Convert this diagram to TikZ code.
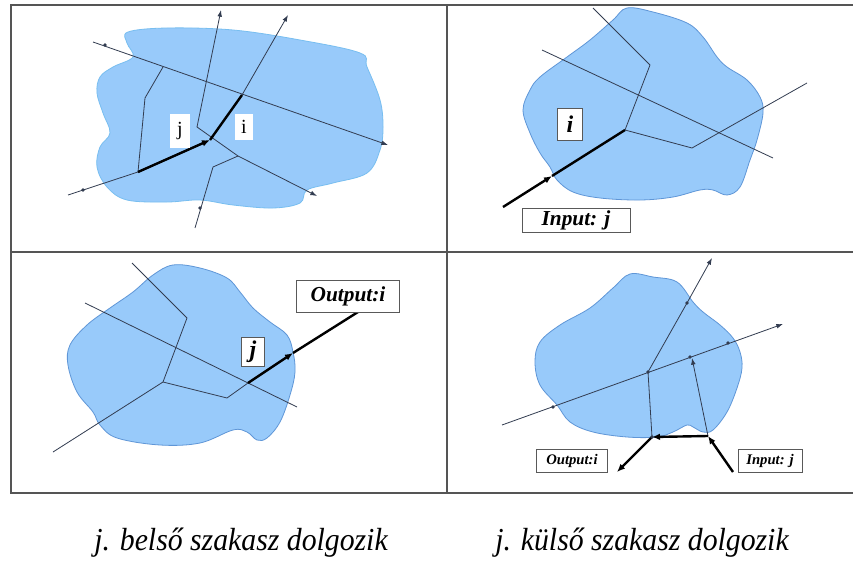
\documentclass[tikz,border=0pt]{standalone}
\usepackage{fontspec}
\setmainfont{Liberation Serif}
\usetikzlibrary{arrows.meta}
\definecolor{blobfill}{RGB}{152,202,250}
\definecolor{blobedgeA}{RGB}{120,190,240}
\definecolor{blobedge}{RGB}{95,150,215}
\definecolor{ln}{RGB}{50,60,80}
\definecolor{frm}{RGB}{85,85,85}
\begin{document}
\begin{tikzpicture}[x=0.75pt,y=-0.75pt,
  thinln/.style={draw=ln, line width=0.6pt},
  boldln/.style={draw=black, line width=1.8pt},
  tip/.style={-{Latex[length=5pt,width=3.5pt]}},
  boldtip/.style={-{Latex[length=6pt,width=5pt]}},
  blob/.style={fill=blobfill, draw=blobedge, line width=0.6pt},
  plainlbl/.style={fill=white, inner sep=0pt, font=\fontsize{15}{15}\selectfont},
  boxlbl/.style={fill=white, draw=gray!70!black, line width=0.6pt, inner sep=0pt, font=\fontsize{16}{16}\selectfont\bfseries\itshape},
  smallbox/.style={fill=white, draw=gray!70!black, line width=0.6pt, inner sep=0pt, font=\fontsize{11}{11}\selectfont\bfseries\itshape},
  caption/.style={font=\fontsize{24}{24}\selectfont\itshape, xscale=0.93, anchor=base, inner sep=0pt}
]
\useasboundingbox (0,0) rectangle (853,563);
\fill[white] (0,0) rectangle (853,563);

% ---------- frame ----------
\draw[frm, line width=1.5pt] (853,5) -- (11,5) -- (11,493) -- (853,493);
\draw[frm, line width=1.2pt] (447,5) -- (447,493);
\draw[frm, line width=1.2pt] (11,252) -- (853,252);

% ---------- panel 1 ----------
\draw[blob, draw=blobedgeA] plot[smooth cycle, tension=0.6] coordinates {
 (128,32) (167,28) (233,30) (300,40) (360,53) (367,67) (380,100) (383,127)
 (380,150) (367,173) (333,183) (307,190) (300,203) (273,208) (233,205)
 (200,200) (167,202) (127,200) (107,187) (97,167) (100,147) (110,133)
 (103,113) (97,93) (100,77) (113,67) (133,57) (127,43)};
\coordinate (a1) at (93,42);   \coordinate (a2) at (388,145);
\coordinate (c1) at (221,10);  \coordinate (c2) at (197,127);
\coordinate (c3) at (238,156); \coordinate (c4) at (317,196);
\coordinate (d1) at (213,167); \coordinate (d2) at (195,228);
\coordinate (e1) at (288,15);  \coordinate (e2) at (242,95);
\coordinate (jn) at (210,140); \coordinate (e3) at (138,172);
\coordinate (e4) at (68,195);
\coordinate (f1) at (145,98);  \coordinate (f2) at (163,67);
\draw[thinln, tip] (a1) -- (a2);
\draw[thinln, tip] (c3) -- (c2) -- (c1);
\draw[thinln, tip] (c3) -- (c4);
\draw[thinln] (c3) -- (d1) -- (d2);
\draw[thinln, tip] (e2) -- (e1);
\draw[thinln] (e3) -- (e4);
\draw[thinln] (e3) -- (f1) -- (f2);
\draw[boldln] (jn) -- (e2);
\draw[boldln, boldtip] (e3) -- (jn);
\fill[ln] (105,45) circle (1.8);
\fill[ln] (83,190) circle (1.8);
\fill[ln] (200,208) circle (1.8);
\node[plainlbl, minimum width=15pt, minimum height=25pt] (lj1) at (180,131) {j};
\node[plainlbl, minimum width=13.5pt, minimum height=19pt] (li1) at (244,127) {i};

% ---------- panel 2 ----------
\draw[blob] plot[smooth cycle, tension=0.6] coordinates {
 (627,8) (653,12) (687,23) (703,37) (717,57) (727,67) (747,80) (760,97)
 (763,113) (757,140) (750,160) (740,187) (727,195) (713,190) (700,190)
 (673,197) (640,200) (600,198) (573,192) (557,180) (550,167) (540,153)
 (530,133) (523,110) (530,90) (540,77) (567,57) (590,40) (613,20)};
\coordinate (p1) at (593,8);   \coordinate (p2) at (650,65);
\coordinate (pj) at (625,130);
\coordinate (q1) at (542,50);  \coordinate (q2) at (773,158);
\coordinate (r1) at (692,148); \coordinate (r2) at (807,83);
\coordinate (s0) at (503,207); \coordinate (s1) at (552,176);
\draw[thinln] (p1) -- (p2) -- (pj);
\draw[thinln] (q1) -- (q2);
\draw[thinln] (pj) -- (r1) -- (r2);
\draw[boldln, boldtip] (s0) -- (s1);
\draw[boldln] (s1) -- (pj);
\node[boxlbl, font=\fontsize{18}{18}\selectfont\bfseries\itshape, minimum width=19pt, minimum height=24pt] (li2) at (570,124) {i};
\node[boxlbl, minimum width=81pt, minimum height=18pt] (in2) at (576,220) {Input: j};

% ---------- panel 3 ----------
\draw[blob] plot[smooth cycle, tension=0.6] coordinates {
 (173,265) (200,268) (227,278) (240,292) (253,308) (270,322) (287,335)
 (293,352) (295,372) (290,395) (280,422) (267,438) (257,440) (247,432)
 (233,430) (200,443) (160,445) (117,438) (100,425) (93,412) (77,392)
 (68,365) (70,345) (87,325) (110,308) (133,292) (153,275)};
\coordinate (t1) at (132,263); \coordinate (t2) at (187,318);
\coordinate (tj) at (163,382);
\coordinate (u1) at (85,303);  \coordinate (u2) at (297,407);
\coordinate (v1) at (227,398); \coordinate (v2) at (248,383);
\coordinate (w1) at (53,452);
\coordinate (x1) at (293,353); \coordinate (x2) at (358,312);
\draw[thinln] (t1) -- (t2) -- (tj);
\draw[thinln] (u1) -- (u2);
\draw[thinln] (tj) -- (v1) -- (v2);
\draw[thinln] (tj) -- (w1);
\draw[boldln, boldtip] (v2) -- (x1);
\draw[boldln] (x1) -- (x2);
\node[boxlbl, font=\fontsize{18}{18}\selectfont\bfseries\itshape, minimum width=17pt, minimum height=22pt] (lj3) at (253,352) {j};
\node[boxlbl, minimum width=77pt, minimum height=24pt] (out3) at (348,296) {Output:i};

% ---------- panel 4 ----------
\draw[blob] plot[smooth cycle, tension=0.6] coordinates {
 (630,274) (653,277) (677,282) (693,302) (703,312) (720,325) (733,338)
 (740,352) (742,368) (737,388) (727,412) (713,430) (703,432) (693,427)
 (687,425) (673,432) (657,437) (627,437) (593,432) (570,422) (557,405)
 (540,385) (535,362) (540,342) (560,325) (590,308) (613,288)};
\coordinate (g1) at (502,425); \coordinate (g2) at (783,324);
\coordinate (h1) at (648,372); \coordinate (h2) at (687,303);
\coordinate (h3) at (712,258);
\coordinate (k1) at (652,437); \coordinate (k2) at (708,436);
\coordinate (k3) at (692,358);
\coordinate (m1) at (733,472); \coordinate (m2) at (617,472);
\draw[thinln, tip] (g1) -- (g2);
\draw[thinln, tip] (h1) -- (h2) -- (h3);
\draw[thinln] (k1) -- (h1);
\draw[thinln, tip] (k2) -- (k3);
\draw[boldln, boldtip] (k2) -- (k1);
\draw[boldln, boldtip] (m1) -- (k2);
\draw[boldln, boldtip] (k1) -- (m2);
\foreach \p in {(553,407),(648,372),(690,357),(728,343),(687,303),(652,437)}
  \fill[ln] \p circle (1.8);
\node[smallbox, minimum width=53pt, minimum height=17pt] (out4) at (572,461) {Output:i};
\node[smallbox, minimum width=48pt, minimum height=17pt] (in4) at (770,461) {Input: j};

% ---------- captions ----------
\node[caption] (cap1) at (241,550) {j. belső szakasz dolgozik};
\node[caption] (cap2) at (642,550) {j. külső szakasz dolgozik};
\end{tikzpicture}
\end{document}
